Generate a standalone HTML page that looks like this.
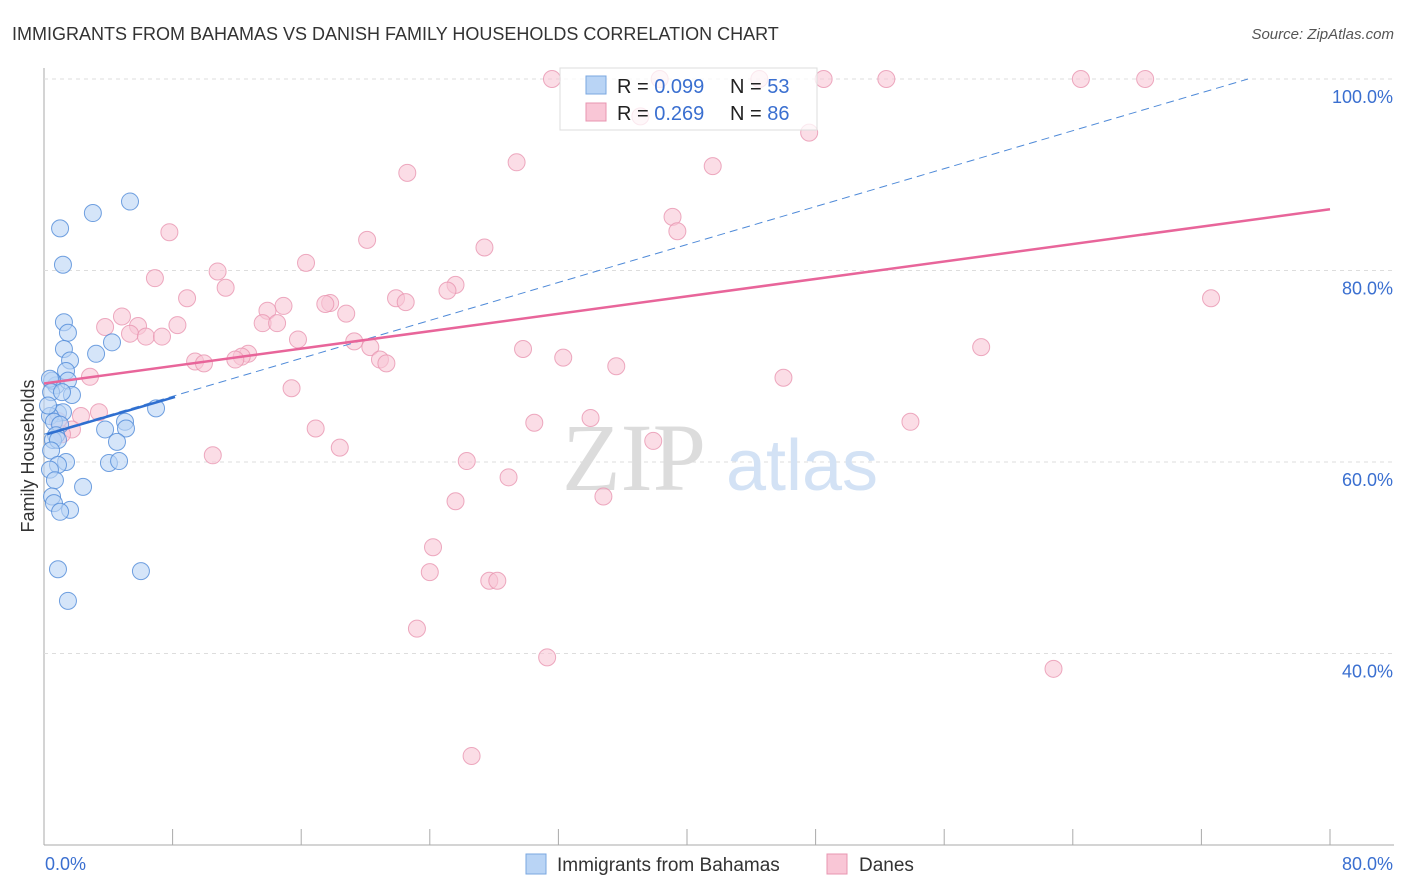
<!DOCTYPE html>
<html><head><meta charset="utf-8">
<style>
body{margin:0;background:#fff;font-family:"Liberation Sans",sans-serif;}
</style></head>
<body>
<svg id="chart" width="1406" height="892" xmlns="http://www.w3.org/2000/svg" style="display:block">
<text x="12" y="40" font-size="18" fill="#333">IMMIGRANTS FROM BAHAMAS VS DANISH FAMILY HOUSEHOLDS CORRELATION CHART</text>
<text x="1394" y="39" font-size="15" fill="#555" font-style="italic" text-anchor="end">Source: ZipAtlas.com</text>
<g id="grid"></g>
<g>
<text x="634" y="490" font-size="96" fill="#dcdcdc" font-family="Liberation Serif,serif" text-anchor="middle">ZIP</text>
<text x="802" y="490" font-size="72" fill="#d3e2f5" text-anchor="middle">atlas</text>
</g>
<g id="pts"></g>
<g id="lines"></g>
<text transform="translate(34,456) rotate(-90)" font-size="18" fill="#333" text-anchor="middle">Family Households</text>
<g>
<rect x="560" y="68" width="257" height="62" fill="#fff" fill-opacity="0.75" stroke="#ddd"/>
<rect x="586" y="76" width="20" height="18" fill="#b9d4f5" stroke="#7aa7e0"/>
<text x="617" y="93" font-size="20" fill="#222">R = <tspan fill="#3a6fd0">0.099</tspan></text>
<text x="730" y="93" font-size="20" fill="#222">N = <tspan fill="#3a6fd0">53</tspan></text>
<rect x="586" y="103" width="20" height="18" fill="#f9c6d6" stroke="#e895b0"/>
<text x="617" y="120" font-size="20" fill="#222">R = <tspan fill="#3a6fd0"> 0.269</tspan></text>
<text x="730" y="120" font-size="20" fill="#222">N = <tspan fill="#3a6fd0">86</tspan></text>
</g>
<g>
<rect x="526" y="854" width="20" height="20" fill="#b9d4f5" stroke="#7aa7e0"/>
<text x="557" y="871" font-size="19" fill="#333">Immigrants from Bahamas</text>
<rect x="827" y="854" width="20" height="20" fill="#f9c6d6" stroke="#e895b0"/>
<text x="859" y="871" font-size="19" fill="#333">Danes</text>
</g>
</svg>
<script>
const yTicks=[40,60,80,100];
const yTickLabels=["40.0%","60.0%","80.0%","100.0%"];
const xEndLabels=["0.0%","80.0%"];
const blueX=[3.04,5.35,1.0,1.18,1.24,1.49,1.24,3.24,4.23,1.62,1.37,0.75,1.49,0.5,1.74,0.37,0.44,6.97,0.87,1.18,0.37,5.04,3.8,5.1,0.62,1.0,0.75,0.56,0.87,4.54,0.44,1.37,4.04,4.67,0.87,0.37,2.43,0.68,0.5,0.62,1.62,1.0,0.87,6.03,1.49,0.25,1.12];
const blueY=[86.0,87.2,84.4,80.6,74.6,73.5,71.8,71.3,72.5,70.6,69.5,68.0,68.5,68.5,67.0,68.7,67.3,65.6,65.1,65.2,64.8,64.2,63.4,63.5,64.2,63.9,62.8,62.3,62.3,62.1,61.2,60.0,59.9,60.1,59.7,59.2,57.4,58.1,56.4,55.7,55.0,54.8,48.8,48.6,45.5,65.9,67.3];
const pinkX=[31.6,38.3,44.5,48.5,52.4,64.5,68.5,37.1,47.6,29.4,41.6,22.6,39.1,39.4,7.8,20.1,27.4,16.3,10.8,6.9,11.3,25.6,25.1,8.9,21.9,22.5,17.8,17.5,14.9,13.9,18.8,4.85,13.6,14.5,8.3,3.8,5.85,5.35,6.34,7.34,15.8,19.3,20.3,29.8,12.7,12.3,11.9,9.4,9.95,20.9,21.3,32.3,35.6,58.3,72.6,2.86,46.0,15.4,3.42,2.3,0.87,1.74,1.12,16.9,30.5,34.0,53.9,37.9,18.4,10.5,26.3,28.9,25.6,34.8,24.2,24.0,27.7,28.2,23.2,31.3,62.8,26.6];
const pinkY=[100,100,100,100,100,100,100,96.1,94.4,91.3,90.9,90.2,85.6,84.1,84.0,83.2,82.4,80.8,79.9,79.2,78.2,78.5,77.9,77.1,77.1,76.7,76.6,76.5,76.3,75.8,75.5,75.2,74.5,74.5,74.3,74.1,74.2,73.4,73.1,73.1,72.8,72.6,72.0,71.8,71.3,71.0,70.7,70.5,70.3,70.7,70.3,70.9,70.0,72.0,77.1,68.9,68.8,67.7,65.2,64.8,64.3,63.4,62.9,63.5,64.1,64.6,64.2,62.2,61.5,60.7,60.1,58.4,55.9,56.4,51.1,48.5,47.6,47.6,42.6,39.6,38.4,29.3];
const blueFit={x:[0.19,8.15],y:[62.9,66.8]};
const blueDash={x:[0,74.9],y:[62.9,100]};
const pinkFit={x:[0,80],y:[68.2,86.4]};
const NS="http://www.w3.org/2000/svg";
const X=v=>44+v*16.075, Y=v=>79+(100-v)*9.575;
function mk(t,a,p){const e=document.createElementNS(NS,t);for(const k in a)e.setAttribute(k,a[k]);p.appendChild(e);return e;}
const grid=document.getElementById('grid');
mk('line',{x1:44,y1:68,x2:44,y2:845,stroke:'#aaa'},grid);
mk('line',{x1:44,y1:845,x2:1394,y2:845,stroke:'#aaa'},grid);
yTicks.forEach((t,i)=>{
 const g=mk('line',{x1:44,y1:Y(t),x2:1394,y2:Y(t),stroke:'#ddd','stroke-dasharray':'4,4'},grid);
 
 
 const l=mk('text',{x:1393,y:Y(t)+24,'font-size':18,fill:'#3a6fd0','text-anchor':'end'},grid);
 l.textContent=yTickLabels[i];
 
 
});
for(let i=1;i<=10;i++){
 const tk=mk('line',{x1:X(i*8),y1:829,x2:X(i*8),y2:845,stroke:'#aaa'},grid);
 
 
}
[[0,'start',45],[1,'end',1393]].forEach(([i,a,x])=>{
 const l=mk('text',{x:x,y:870,'font-size':18,fill:'#3a6fd0','text-anchor':a},grid);
 l.textContent=xEndLabels[i];
 
 
});
const pts=document.getElementById('pts');
pinkX.forEach((v,i)=>{
 const c=mk('circle',{cx:X(v),cy:Y(pinkY[i]),r:8.5,fill:'#f9c6d6','fill-opacity':0.6,stroke:'#e895b0','stroke-opacity':0.8},pts);
 
 
});
blueX.forEach((v,i)=>{
 const c=mk('circle',{cx:X(v),cy:Y(blueY[i]),r:8.5,fill:'#b9d4f5','fill-opacity':0.6,stroke:'#4f8ad8','stroke-opacity':0.8},pts);
 
 
});
const ln=document.getElementById('lines');
const d=mk('line',{x1:X(blueDash.x[0]),y1:Y(blueDash.y[0]),x2:X(blueDash.x[1]),y2:Y(blueDash.y[1]),stroke:'#4f8ad8','stroke-width':1,'stroke-dasharray':'8,5'},ln);


const p=mk('line',{x1:X(pinkFit.x[0]),y1:Y(pinkFit.y[0]),x2:X(pinkFit.x[1]),y2:Y(pinkFit.y[1]),stroke:'#e8659a','stroke-width':2.5},ln);


const b=mk('line',{x1:X(blueFit.x[0]),y1:Y(blueFit.y[0]),x2:X(blueFit.x[1]),y2:Y(blueFit.y[1]),stroke:'#2f6fd0','stroke-width':2.5},ln);


</script>
</body></html>
